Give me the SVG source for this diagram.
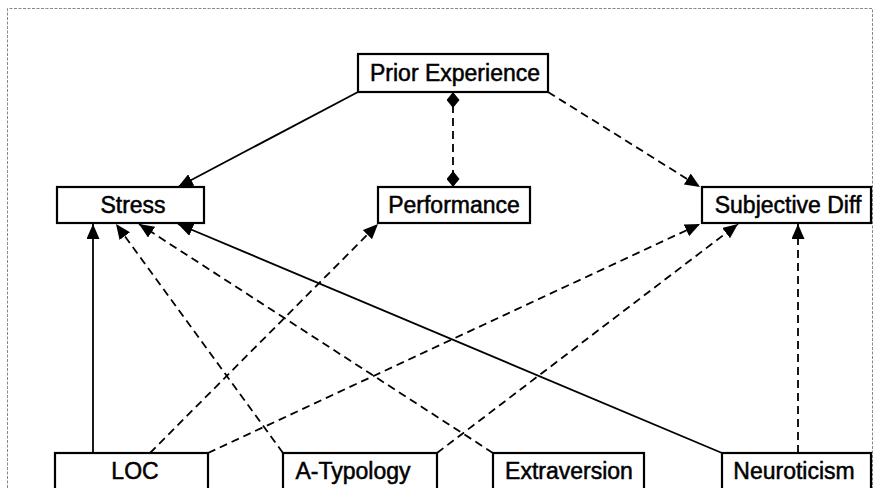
<svg xmlns="http://www.w3.org/2000/svg" width="874" height="488" viewBox="0 0 874 488">
<style>
.box{fill:#fff;stroke:#000;stroke-width:2.2}
.lbl{font-family:"Liberation Sans",Arial,sans-serif;font-size:23px;fill:#000;stroke:#000;stroke-width:0.5;text-anchor:middle}
.c{fill:none;stroke:#000;stroke-width:1.8}
.d{stroke-dasharray:8,5}
.frame{fill:none;stroke:#888;stroke-width:1;stroke-dasharray:3,1.5}
</style>
<defs>
<marker id="arr" viewBox="0 0 15 13" refX="15" refY="6.5" markerWidth="15" markerHeight="13" markerUnits="userSpaceOnUse" orient="auto"><path d="M0,0 L15,6.5 L0,13 z" fill="#000"/></marker>
<marker id="dia" viewBox="0 0 16 13" refX="16" refY="6.5" markerWidth="16" markerHeight="13" markerUnits="userSpaceOnUse" orient="auto-start-reverse"><path d="M0,6.5 L8,0 L16,6.5 L8,13 z" fill="#000"/></marker>
</defs>
<rect width="874" height="488" fill="#fff"/>
<path class="frame" d="M7.5,488 V8.5 H872.5 V488"/>
<g id="connectors">
<path class="c" d="M358,92 L178,187" marker-end="url(#arr)"/>
<path class="c d" d="M453,92 L453,187" marker-start="url(#dia)" marker-end="url(#dia)"/>
<path class="c d" d="M548,92 L700,187" marker-end="url(#arr)"/>
<path class="c" d="M93,453 L93,224" marker-end="url(#arr)"/>
<path class="c d" d="M283,453 L116,224" marker-end="url(#arr)"/>
<path class="c d" d="M493,453 L139,224" marker-end="url(#arr)"/>
<path class="c" d="M722,453 L178,224" marker-end="url(#arr)"/>
<path class="c d" d="M150,453 L378,224" marker-end="url(#arr)"/>
<path class="c d" d="M208,453 L700,224" marker-end="url(#arr)"/>
<path class="c d" d="M437,453 L738,224" marker-end="url(#arr)"/>
<path class="c d" d="M798,453 L798,224" marker-end="url(#arr)"/>
</g>
<g id="prior-experience"><rect class="box" x="358" y="54" width="190" height="38"/><text class="lbl" x="455" y="81">Prior Experience</text></g>
<g id="stress"><rect class="box" x="57" y="187" width="147" height="36"/><text class="lbl" x="133" y="213">Stress</text></g>
<g id="performance"><rect class="box" x="378" y="187" width="152" height="36"/><text class="lbl" x="454" y="213">Performance</text></g>
<g id="subjective-diff"><rect class="box" x="702" y="187" width="169" height="36"/><text class="lbl" x="788" y="213">Subjective Diff</text></g>
<g id="loc"><rect class="box" x="55" y="453" width="153" height="50"/><text class="lbl" x="135" y="479">LOC</text></g>
<g id="a-typology"><rect class="box" x="283" y="453" width="154" height="50"/><text class="lbl" x="353" y="479">A-Typology</text></g>
<g id="extraversion"><rect class="box" x="493" y="453" width="151" height="50"/><text class="lbl" x="569" y="479">Extraversion</text></g>
<g id="neuroticism"><rect class="box" x="722" y="453" width="149" height="50"/><text class="lbl" x="794" y="479">Neuroticism</text></g>
</svg>
